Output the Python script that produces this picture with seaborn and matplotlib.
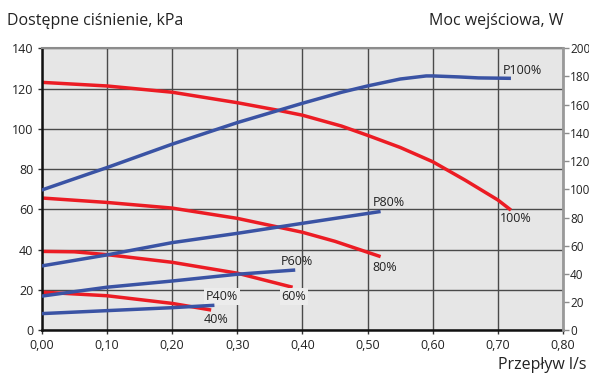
import pandas as pd
import seaborn as sns
import matplotlib.pyplot as plt
import matplotlib

sns.set_style("white")
matplotlib.rcParams["font.family"] = ["Open Sans", "DejaVu Sans"]

RED = "#ec1c24"
BLUE = "#3a53a4"

# pressure curves, kPa (left axis)
flow_h100 = [0.00, 0.10, 0.20, 0.30, 0.36, 0.40, 0.46, 0.50, 0.55, 0.60, 0.65, 0.70, 0.72]
head_100 = [123.1, 121.3, 118.2, 113.0, 109.4, 106.8, 101.4, 96.8, 90.8, 83.7, 74.5, 64.7, 59.7]
flow_h80 = [0.00, 0.10, 0.20, 0.30, 0.40, 0.45, 0.52]
head_80 = [65.7, 63.5, 60.7, 55.6, 48.7, 44.2, 36.6]
flow_h60 = [0.00, 0.05, 0.10, 0.20, 0.30, 0.385]
head_60 = [39.2, 39.0, 37.6, 33.8, 28.4, 21.4]
flow_h40 = [0.00, 0.10, 0.20, 0.26]
head_40 = [19.0, 17.2, 13.4, 10.1]

# input power curves, W (right axis)
flow_p100 = [0.00, 0.10, 0.20, 0.30, 0.40, 0.46, 0.50, 0.55, 0.59, 0.60, 0.64, 0.67, 0.72]
power_100 = [99.5, 115.4, 132.0, 147.3, 161.0, 168.8, 173.3, 178.2, 180.4, 180.4, 179.7, 179.0, 178.7]
flow_p80 = [0.00, 0.10, 0.20, 0.30, 0.40, 0.52]
power_80 = [45.7, 53.5, 62.2, 68.8, 75.9, 84.3]
flow_p60 = [0.00, 0.10, 0.20, 0.30, 0.389]
power_60 = [24.3, 30.6, 35.0, 39.8, 42.8]
flow_p40 = [0.00, 0.10, 0.20, 0.265]
power_40 = [11.9, 14.0, 16.1, 17.8]

x_ticks = [0.0, 0.1, 0.2, 0.3, 0.4, 0.5, 0.6, 0.7, 0.8]
left_ticks = [0, 20, 40, 60, 80, 100, 120, 140]
right_ticks = [0, 20, 40, 60, 80, 100, 120, 140, 160, 180, 200]

fig = plt.figure(figsize=(5.89, 3.74), dpi=100)
ax = fig.add_axes([0.0708, 0.1166, 0.8852, 0.7543])
ax.set_facecolor("#e6e6e6")

for fx, fy in [(flow_h100, head_100), (flow_h80, head_80),
               (flow_h60, head_60), (flow_h40, head_40)]:
    sns.lineplot(x=fx, y=fy, ax=ax, color=RED, linewidth=2.5,
                 solid_capstyle="butt", solid_joinstyle="round", sort=False)

ax.set_xlim(0, 0.8)
ax.set_ylim(0, 140)
ax.set_xticks(x_ticks)
ax.set_yticks(left_ticks)
ax.set_xticklabels([f"{t:.2f}".replace(".", ",") for t in x_ticks])
ax.grid(True, color="#4a4a4a", linewidth=1.0)
ax.set_axisbelow(True)
ax.tick_params(axis="both", labelsize=9, length=3, width=1, color="#333333",
               pad=3, labelcolor="#222222")
ax.tick_params(axis="y", direction="out", left=True)
ax.tick_params(axis="x", direction="out", bottom=True)
ax.spines["left"].set_color("#111111")
ax.spines["left"].set_linewidth(1.8)
ax.spines["bottom"].set_color("#111111")
ax.spines["bottom"].set_linewidth(1.8)
ax.spines["top"].set_color("#8c8c8c")
ax.spines["top"].set_linewidth(1.5)
ax.spines["right"].set_visible(False)
ax.set_xlabel("")
ax.set_ylabel("")

ax2 = ax.twinx()
for fx, fy in [(flow_p100, power_100), (flow_p80, power_80),
               (flow_p60, power_60), (flow_p40, power_40)]:
    sns.lineplot(x=fx, y=fy, ax=ax2, color=BLUE, linewidth=2.5,
                 solid_capstyle="butt", solid_joinstyle="round", sort=False)
ax2.set_ylim(0, 200)
ax2.set_yticks(right_ticks)
ax2.tick_params(axis="y", labelsize=8.5, length=4, width=1, color="#8c8c8c",
                direction="out", right=True, pad=1, labelcolor="#222222")
for s in ["left", "top", "bottom"]:
    ax2.spines[s].set_visible(False)
ax2.spines["right"].set_color("#999999")
ax2.spines["right"].set_linewidth(2.0)
ax2.set_ylabel("")

# curve labels (positions in kPa / l/s on the left axis)
lab_kw = dict(fontsize=9, color="#222222", ha="center", va="center", zorder=5)
box = dict(boxstyle="square,pad=0.15", facecolor="#ececec", edgecolor="none")
ax.text(0.737, 129, "P100%", **lab_kw)
ax.text(0.727, 55.3, "100%", **lab_kw)
ax.text(0.533, 63.4, "P80%", **lab_kw)
ax.text(0.527, 31.3, "80%", **lab_kw)
ax.text(0.391, 34.4, "P60%", **lab_kw)
ax.text(0.387, 16.7, "60%", bbox=box, **lab_kw)
ax.text(0.276, 16.7, "P40%", bbox=box, **lab_kw)
ax.text(0.267, 5.5, "40%", **lab_kw)

fig.text(0.012, 0.945, "Dostępne ciśnienie, kPa", fontsize=11.5,
         color="#222222", ha="left", va="center")
fig.text(0.956, 0.945, "Moc wejściowa, W", fontsize=11.5,
         color="#222222", ha="right", va="center")
fig.text(0.995, 0.025, "Przepływ l/s", fontsize=11.5,
         color="#222222", ha="right", va="center")

fig.savefig("out.png", dpi=100)
